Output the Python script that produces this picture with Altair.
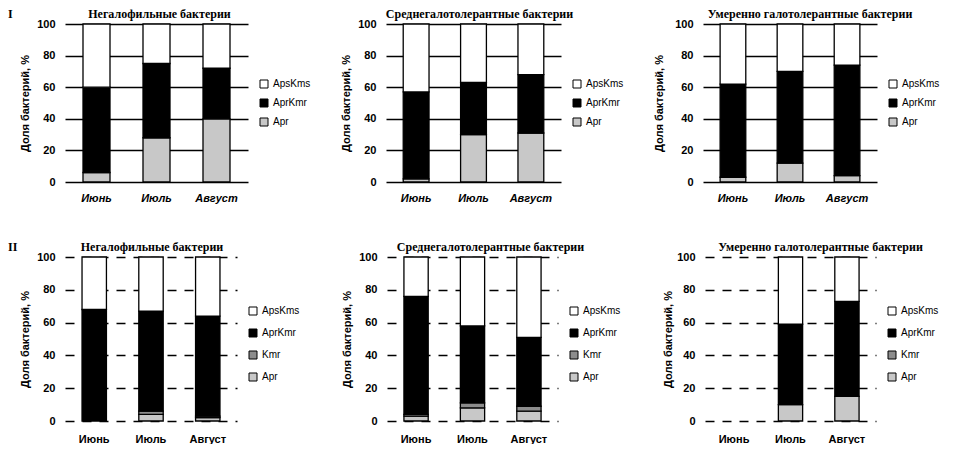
import altair as alt
import pandas as pd

months = ["Июнь", "Июль", "Август"]

titles = ["Негалофильные бактерии", "Среднегалотолерантные бактерии",
          "Умеренно галотолерантные бактерии"]
row_labels = ["I", "II"]

# Row I (three groups)
neg1_apr = [6, 28, 40]
neg1_aprkmr = [54, 47, 32]
neg1_apskms = [40, 25, 28]

sred1_apr = [2, 30, 31]
sred1_aprkmr = [55, 33, 37]
sred1_apskms = [43, 37, 32]

umer1_apr = [3, 12, 4]
umer1_aprkmr = [59, 58, 70]
umer1_apskms = [38, 30, 26]

# Row II (four groups)
neg2_apr = [0, 4, 2]
neg2_kmr = [0, 2, 1]
neg2_aprkmr = [68, 61, 61]
neg2_apskms = [32, 33, 36]

sred2_apr = [3, 8, 6]
sred2_kmr = [1, 3, 3]
sred2_aprkmr = [72, 47, 42]
sred2_apskms = [24, 42, 49]

umer2_apr = [0, 10, 15]
umer2_kmr = [0, 0, 0]
umer2_aprkmr = [0, 49, 58]
umer2_apskms = [0, 41, 27]

order_map = {"Apr": 0, "Kmr": 1, "AprKmr": 2, "ApsKms": 3}
color_map = {"ApsKms": "#ffffff", "AprKmr": "#000000", "Kmr": "#8c8c8c", "Apr": "#c8c8c8"}

SANS = "Liberation Sans"
SERIF = "Liberation Serif"


def panel(title, series, w, h, italic, dashed, pad_inner, title_dx, ytp=6,
          xlp=10, row_label=None):
    rows = []
    for name, vals in series:
        for m, v in zip(months, vals):
            if v > 0:
                rows.append({"Месяц": m, "Группа": name, "Доля": v, "ord": order_map[name]})
    df = pd.DataFrame(rows)
    legend_dom = sorted([n for n, _ in series], key=lambda n: -order_map[n])
    three = len(legend_dom) == 3
    color = alt.Color(
        "Группа:N",
        scale=alt.Scale(domain=legend_dom, range=[color_map[n] for n in legend_dom]),
        legend=alt.Legend(orient="none", legendX=w + 11, legendY=55 if three else 49,
                          title=None, symbolType="square", symbolSize=64,
                          symbolStrokeColor="black", symbolStrokeWidth=1,
                          labelFont=SANS, labelFontSize=10, labelColor="black",
                          rowPadding=7 if three else 10),
    )
    grid_kw = dict(grid=True, gridColor="black", gridWidth=1.3)
    if dashed:
        grid_kw["gridDash"] = [9, 8]
    bars = alt.Chart(df).mark_bar(stroke="black", strokeWidth=1.3).encode(
        x=alt.X("Месяц:N", sort=months,
                scale=alt.Scale(domain=months, paddingInner=pad_inner, paddingOuter=0.3),
                axis=alt.Axis(title=None, labelAngle=0, domain=False, ticks=False,
                              labelFont=SANS, labelFontSize=11, labelFontWeight="bold",
                              labelFontStyle="italic" if italic else "normal",
                              labelColor="black", labelPadding=xlp)),
        y=alt.Y("Доля:Q", stack="zero", scale=alt.Scale(domain=[0, 100]),
                axis=alt.Axis(title="Доля бактерий, %", values=[0, 20, 40, 60, 80, 100],
                              domain=False, ticks=False, labelPadding=10,
                              labelFont=SANS, labelFontSize=11, labelFontWeight="bold",
                              labelColor="black", titleFont=SANS, titleFontSize=11,
                              titleFontWeight="bold", titleColor="black", titlePadding=ytp,
                              **grid_kw)),
        color=color,
        order=alt.Order("ord:Q"),
    )
    ttl = alt.Chart(pd.DataFrame({"t": [title]})).mark_text(
        align="center", baseline="middle", font=SERIF, fontSize=12, fontWeight="bold",
        color="black").encode(text="t:N", x=alt.value(w / 2 + title_dx), y=alt.value(-10))
    layers = [bars, ttl]
    if row_label is not None:
        lab = alt.Chart(pd.DataFrame({"t": [row_label]})).mark_text(
            align="left", baseline="middle", font=SERIF, fontSize=12, fontWeight="bold",
            color="black").encode(text="t:N", x=alt.value(-57), y=alt.value(-10))
        layers.append(lab)
    return alt.layer(*layers).properties(width=w, height=h).resolve_scale(color="independent")


p1 = panel(titles[0], [("Apr", neg1_apr), ("AprKmr", neg1_aprkmr), ("ApsKms", neg1_apskms)],
           183, 158, True, False, 0.55, 3, row_label=row_labels[0])
p2 = panel(titles[1], [("Apr", sred1_apr), ("AprKmr", sred1_aprkmr), ("ApsKms", sred1_apskms)],
           175, 158, True, False, 0.55, 6)
p3 = panel(titles[2], [("Apr", umer1_apr), ("AprKmr", umer1_aprkmr), ("ApsKms", umer1_apskms)],
           174, 158, True, False, 0.55, 20, ytp=10)

p4 = panel(titles[0], [("Apr", neg2_apr), ("Kmr", neg2_kmr), ("AprKmr", neg2_aprkmr), ("ApsKms", neg2_apskms)],
           172, 164, False, True, 0.57, 1, xlp=12, row_label=row_labels[1])
p5 = panel(titles[1], [("Apr", sred2_apr), ("Kmr", sred2_kmr), ("AprKmr", sred2_aprkmr), ("ApsKms", sred2_apskms)],
           171, 164, False, True, 0.57, 18, xlp=12)
p6 = panel(titles[2], [("Apr", umer2_apr), ("Kmr", umer2_kmr), ("AprKmr", umer2_aprkmr), ("ApsKms", umer2_apskms)],
           171, 164, False, True, 0.57, 30, ytp=3, xlp=12)

row1 = alt.hconcat(p1, p2, p3, spacing=29).resolve_scale(color="independent")
row2 = alt.hconcat(p4, p5, p6, spacing=41).resolve_scale(color="independent")

chart = alt.vconcat(row1, row2, spacing=38).resolve_scale(color="independent").properties(
    padding=0, background="white"
).configure_view(stroke=None)

chart.save("out.html", embed_options={"renderer": "svg", "actions": False})
